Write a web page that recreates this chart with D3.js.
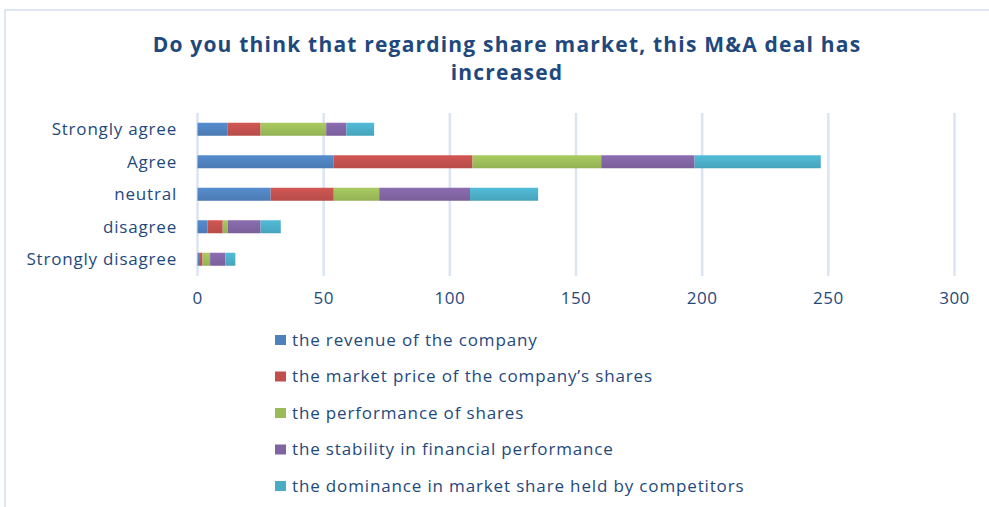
<!DOCTYPE html>
<html>
<head>
<meta charset="utf-8">
<script src="https://cdn.jsdelivr.net/npm/d3@7"></script>
<style>
  body { margin: 0; background: #fff; }
  svg text { font-family: "Open Sans", sans-serif; fill: #1f497d; }
</style>
</head>
<body>
<svg id="chart" width="989" height="507"></svg>
<script>
const categories = ['Strongly agree', 'Agree', 'neutral', 'disagree', 'Strongly disagree']
const seriesNames = [
    'the revenue of the company',
    'the market price of the company\u2019s shares',
    'the performance of shares',
    'the stability in financial performance',
    'the dominance in market share held by competitors'
]
// one array per series, in the order of categories
const revenue     = [12, 54, 29, 4, 1]
const marketPrice = [13, 55, 25, 6, 1]
const performance = [26, 51, 18, 2, 3]
const stability   = [8, 37, 36, 13, 6]
const dominance   = [11, 50, 27, 8, 4]
const xTicks = [0, 50, 100, 150, 200, 250, 300]
const colors = ['#4f81bd', '#c0504d', '#9bbb59', '#8064a2', '#4bacc6']

const seriesValues = [revenue, marketPrice, performance, stability, dominance]
const rows = categories.map((c, i) => {
    const row = {category: c}
    seriesNames.forEach((s, j) => row[s] = seriesValues[j][i])
    return row
})

const svg = d3.select('#chart')

// outer chart frame
svg.append('rect')
    .attr('x', 5).attr('y', 10)
    .attr('width', 1000).attr('height', 520)
    .attr('fill', 'none')
    .attr('stroke', '#d5e0ee')
    .attr('stroke-width', 1.5)

const title = svg.append('text')
    .attr('text-anchor', 'middle')
    .style('font-weight', 'bold')
    .style('font-size', '21px')
    .style('letter-spacing', '1.2px')
title.append('tspan').attr('x', 507).attr('y', 52).text('Do you think that regarding share market, this M&A deal has')
title.append('tspan').attr('x', 507).attr('y', 80).text('increased')

const x = d3.scaleLinear().domain([0, 300]).range([197.5, 954.5])
const y = d3.scaleBand().domain(categories).range([113, 275.5]).paddingInner(0.6).paddingOuter(0.3)

// gridlines
svg.append('g')
    .selectAll('line')
    .data(xTicks)
    .enter()
        .append('line')
        .attr('x1', d => x(d)).attr('x2', d => x(d))
        .attr('y1', 113).attr('y2', 276)
        .attr('stroke', '#dbe5f1')
        .attr('stroke-width', 2.5)

const grad = svg.append('defs').selectAll('linearGradient')
    .data(colors)
    .enter()
        .append('linearGradient')
        .attr('id', (d, i) => 'g' + i)
        .attr('x1', 0).attr('y1', 0).attr('x2', 0).attr('y2', 1)
grad.append('stop').attr('offset', '0%').attr('stop-color', d => d3.color(d).brighter(0.25))
grad.append('stop').attr('offset', '100%').attr('stop-color', d => d3.color(d).darker(0.15))

const stacked = d3.stack().keys(seriesNames)(rows)

svg.append('g')
    .selectAll('g')
    .data(stacked)
    .enter()
        .append('g')
        .attr('fill', (d, i) => 'url(#g' + i + ')')
        .selectAll('rect')
        .data(d => d)
        .enter()
            .append('rect')
            .attr('x', d => x(d[0]))
            .attr('width', d => x(d[1]) - x(d[0]))
            .attr('y', d => y(d.data.category))
            .attr('height', y.bandwidth())

// category labels
svg.append('g')
    .selectAll('text')
    .data(categories)
    .enter()
        .append('text')
        .attr('x', 177)
        .attr('y', d => y(d) + y.bandwidth() / 2)
        .attr('dy', '0.35em')
        .attr('text-anchor', 'end')
        .style('font-size', '17px')
        .style('letter-spacing', '0.8px')
        .text(d => d)

// x tick labels
svg.append('g')
    .selectAll('text')
    .data(xTicks)
    .enter()
        .append('text')
        .attr('x', d => x(d))
        .attr('y', 298)
        .attr('dy', '0.35em')
        .attr('text-anchor', 'middle')
        .style('font-size', '17px')
        .style('letter-spacing', '0.5px')
        .text(d => d)

// legend
const legend = svg.append('g')
    .selectAll('g')
    .data(seriesNames)
    .enter()
        .append('g')
        .attr('transform', (d, i) => `translate(275, ${340 + i * 36.5})`)

legend.append('rect')
    .attr('x', 0).attr('y', -5)
    .attr('width', 11).attr('height', 10)
    .attr('fill', (d, i) => colors[i])

legend.append('text')
    .attr('x', 17)
    .attr('dy', '0.35em')
    .style('font-size', '17px')
    .style('letter-spacing', '0.85px')
    .text(d => d)
</script>
</body>
</html>
